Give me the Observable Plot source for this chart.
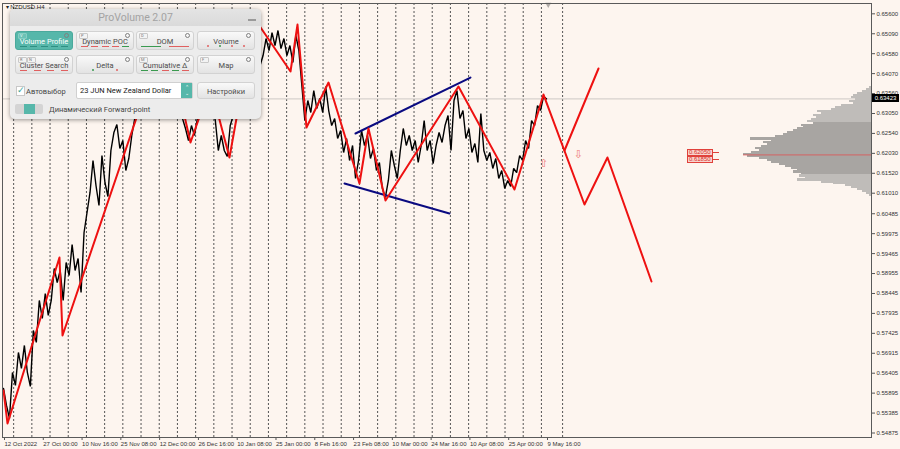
<!DOCTYPE html>
<html><head><meta charset="utf-8">
<script src="https://cdn.jsdelivr.net/npm/d3@7"></script>
<script src="https://cdn.jsdelivr.net/npm/@observablehq/plot@0.6"></script>
<style>
html,body{margin:0;padding:0;background:#fdf5ef;}
#wrap{position:relative;width:900px;height:449px;overflow:hidden;}
#wrap svg{position:absolute;left:0;top:0;}
.panel{position:absolute;left:10px;top:9px;width:251px;height:110px;background:#ececec;border-radius:5px;box-shadow:0 1px 4px rgba(0,0,0,.4);font-family:Roboto,"Open Sans",sans-serif;overflow:hidden}
.ttl{position:absolute;left:0;top:0;width:100%;height:17px;background:linear-gradient(#e4e4e4,#dadada);text-align:center;font-size:10.5px;line-height:17px;color:#a3a3a3}
.min{position:absolute;right:5px;top:10px;width:8px;height:1.5px;background:#9a9a9a}
.btn{position:absolute;width:58px;height:19px;box-sizing:border-box;border:1px solid #d2d2d2;border-radius:3px;background:linear-gradient(#f9f9f9,#e3e3e3)}
.btn b{position:absolute;left:0;right:0;top:5px;text-align:center;font-weight:normal;font-size:7.5px;line-height:9px;color:#4a4a4a;white-space:nowrap}
.btn.on{background:#56b7aa;border-color:#4aa99c}
.btn.on b{color:#fff}
.tag{position:absolute;left:2px;top:1px;height:4px;min-width:5px;padding:0 1px;border:1px solid #c8c8c8;border-radius:1px;font-size:4px;line-height:4px;font-style:normal;color:#777;background:#f3f3f3}
.btn.on .tag{background:#6cc2b6;border-color:#86cfc4;color:#e8fffb}
.gear{position:absolute;right:3px;top:1px;width:3px;height:3px;border:1px solid #808080;border-radius:50%}
.ind{position:absolute;left:4px;right:4px;bottom:2px;height:1px;display:flex;justify-content:space-between;text-decoration:none}
.ind u{display:block;width:7px;height:1px}
.ind.dots{justify-content:space-around;height:2px}
.ind.dots u{width:2px;height:2px;border-radius:1px}
.chk{position:absolute;left:6px;top:77px;width:7px;height:8px;background:#fff;border:1px solid #c8c8c8;color:#3aa597;font-size:9px;line-height:7px;text-align:center}
.txt{position:absolute;font-size:7.5px;color:#444;white-space:nowrap}
.dd{position:absolute;left:66px;top:73px;width:117px;height:17px;box-sizing:border-box;background:#fff;border:1px solid #d0d0d0;border-radius:2px;font-size:7.5px;line-height:15px;color:#222;padding-left:3px}
.spin{position:absolute;right:0;top:0;width:11px;height:15px;background:#56b7aa;color:#fff;font-size:5px;line-height:6px;text-align:center;padding-top:1px;box-sizing:border-box}
.tog{position:absolute;left:5px;top:95px;width:28px;height:10px;background:#d4d4d4;border-radius:2px}
.tog i{position:absolute;left:9px;top:0;width:11px;height:10px;background:#56b7aa}
.ptag{position:absolute;width:26px;height:7px;box-sizing:border-box;border:1px solid #e0413b;background:#f8d3cd;color:#d8302a;font:6px/5px "Liberation Sans",sans-serif;text-align:center}
.ptag:after{content:"";position:absolute;left:25px;top:2px;width:6px;height:1px;background:#e0413b}
.cur{position:absolute;left:872px;width:27px;height:8px;background:#000;color:#fff;font:6px/8px "Liberation Sans",sans-serif;text-align:center}
</style></head><body><div id="wrap"></div>
<script>
// ---- data ----
const labelBars = [0,65,130,195,260,325,390,455,520,585,650,715,780,845,910];
const labelTexts = ["12 Oct 2022","27 Oct 00:00","10 Nov 16:00","25 Nov 08:00","12 Dec 00:00","26 Dec 16:00","10 Jan 08:00","25 Jan 00:00","8 Feb 16:00","23 Feb 08:00","10 Mar 00:00","24 Mar 16:00","10 Apr 08:00","25 Apr 00:00","9 May 16:00"];
const yTicks = [0.65600,0.65090,0.64580,0.64070,0.63560,0.63050,0.62540,0.62030,0.61520,0.61010,0.60485,0.59975,0.59465,0.58955,0.58445,0.57935,0.57425,0.56915,0.56405,0.55895,0.55385,0.54875];
const weekBars = [17,47.5,78,108.5,139,169.5,200,230.5,261,291.5,322,352.5,383,413.5,444,474.5,505,535.5,566,596.5,627,657.5,688,718.5,749,779.5,810,840.5,871,901.5,937];
const barStep = 5; // one sample every 5 H4 bars
const closes = [
0.56015,0.55580,0.55248,0.56424,0.56092,0.56936,0.56527,0.57115,0.56424,0.56066,
0.57499,0.57192,0.58266,0.57806,0.58445,0.57882,0.58266,0.59085,0.58726,0.59033,
0.58266,0.59238,0.58905,0.59698,0.59033,0.59340,0.58471,0.60005,0.60517,0.61029,
0.61847,0.61208,0.60696,0.61975,0.61284,0.60926,0.62103,0.62563,0.62768,0.62154,
0.62359,0.61591,0.61898,0.62487,0.62922,0.63382,0.63177,0.63766,0.63587,0.64149,
0.63945,0.64533,0.64354,0.64917,0.65045,0.64533,0.64712,0.64149,0.63842,0.63382,
0.62922,0.62666,0.62359,0.62742,0.62487,0.62922,0.63126,0.63510,0.63766,0.63587,
0.63254,0.62870,0.62103,0.62487,0.62103,0.61950,0.62742,0.62998,0.63382,0.63638,
0.64021,0.64277,0.64661,0.64968,0.65173,0.64789,0.64277,0.64533,0.64968,0.64661,
0.65121,0.64789,0.65173,0.64712,0.64968,0.64533,0.64789,0.64354,0.65045,0.64661,
0.63766,0.62870,0.63382,0.63075,0.63638,0.63177,0.63433,0.63075,0.63740,0.63126,
0.62742,0.62922,0.62410,0.62615,0.62052,0.62410,0.61847,0.62231,0.61387,0.61847,
0.62615,0.62231,0.62487,0.61898,0.62154,0.61591,0.61796,0.61131,0.60901,0.61336,
0.62103,0.61719,0.61387,0.62103,0.62666,0.62231,0.62487,0.62103,0.62359,0.61796,
0.62231,0.62870,0.62103,0.62359,0.61770,0.62231,0.62563,0.62308,0.62742,0.62998,
0.62103,0.63382,0.63638,0.62922,0.63126,0.62410,0.62666,0.62052,0.62282,0.61796,
0.63049,0.62103,0.61847,0.62052,0.61643,0.61898,0.61387,0.61591,0.61131,0.61336,
0.61182,0.61643,0.61540,0.61975,0.61847,0.62359,0.62154,0.62870,0.62742,0.63254,
0.63126,0.63484,0.63423];
const zigBars   = [0,6.7,93.8,98.9,271.5,313.4,346.9,378.7,420.6,481,492.7,507.8,544.7,596.6,611.7,640.2,762.5,856.4,905,973.7,1012.2,1086];
const zigPrices = [0.55964,0.55120,0.59366,0.57371,0.65121,0.62308,0.63766,0.61924,0.65480,0.64124,0.65326,0.62691,0.63842,0.61259,0.62666,0.60824,0.63740,0.61105,0.63535,0.60722,0.61924,0.58752];
const altBars   = [940.2,997.2];
const altPrices = [0.62103,0.64201];
const upperBars = [589.9,782.6], upperPrices = [0.62538,0.63970];
const lowerBars = [571.5,747.4], lowerPrices = [0.61259,0.60491];
const signalBars = [905,963.6], signalPrices = [0.61770,0.62001], signalGlyphs = ["⇧","⇩"];
const currentPrice = 0.63423;
const tagPrices = [0.62050,0.61850];
const tagBar = 1146;
const shiftBar = 913;
const profPrices = [0.6370,0.6365,0.6360,0.6355,0.6350,0.6345,0.6340,0.6335,0.6330,0.6325,0.6320,0.6315,0.6310,0.6305,0.6300,0.6295,0.6290,0.6285,0.6280,0.6275,0.6270,0.6265,0.6260,0.6255,0.6250,0.6245,0.6240,0.6235,0.6230,0.6225,0.6220,0.6215,0.6210,0.6205,0.6200,0.6195,0.6190,0.6185,0.6180,0.6175,0.6170,0.6165,0.6160,0.6155,0.6150,0.6145,0.6140,0.6135,0.6130,0.6125,0.6120,0.6115,0.6110,0.6105,0.6100,0.6095];
const profVols   = [2,5,9,14,18,20,16,22,18,30,36,40,54,50,58,55,60,64,58,70,68,74,78,84,88,96,121,100,108,104,110,116,112,120,128,124,112,104,100,92,86,80,74,78,70,72,66,74,50,38,26,20,14,9,5,2];
const valueArea = [0.6150,0.6280];
const pocPrice = 0.6199;

// ---- main chart ----
const W = 900, H = 449, mL = 2, mR = 29, mT = 3, mB = 12;
const xDom = [-1.68, 1454.7], yDom = [0.5476, 0.65864];
const bg = "#fdf5ef";
const priceData = closes.map((p,i)=>({bar:i*barStep, price:p}));
const zig = zigBars.map((b,i)=>({bar:b, price:zigPrices[i]}));
const alt = altBars.map((b,i)=>({bar:b, price:altPrices[i]}));
const upper = upperBars.map((b,i)=>({bar:b, price:upperPrices[i]}));
const lower = lowerBars.map((b,i)=>({bar:b, price:lowerPrices[i]}));
const signals = signalBars.map((b,i)=>({bar:b, price:signalPrices[i], g:signalGlyphs[i]}));
const labelMap = new Map(labelBars.map((b,i)=>[b,labelTexts[i]]));

const chart = Plot.plot({
  width: W, height: H, marginLeft: mL, marginRight: mR, marginTop: mT, marginBottom: mB,
  style: {background: bg, fontFamily: "'Liberation Sans', sans-serif", overflow: "visible"},
  x: {domain: xDom, label: null},
  y: {domain: yDom, label: null},
  marks: [
    Plot.ruleX(weekBars, {stroke: "#555", strokeWidth: 1, strokeDasharray: "2,2"}),
    Plot.ruleY([currentPrice], {stroke: "#cdc8c4", strokeWidth: 1}),
    Plot.line(priceData, {x: "bar", y: "price", stroke: "#000", strokeWidth: 1.4, strokeLinejoin: "miter"}),
    Plot.line(upper, {x: "bar", y: "price", stroke: "#0a0a80", strokeWidth: 2}),
    Plot.line(lower, {x: "bar", y: "price", stroke: "#0a0a80", strokeWidth: 2}),
    Plot.line(zig, {x: "bar", y: "price", stroke: "#ee1111", strokeWidth: 2}),
    Plot.line(alt, {x: "bar", y: "price", stroke: "#ee1111", strokeWidth: 2}),
    Plot.text(signals, {x: "bar", y: "price", text: "g", fill: "#ee7b78", fontSize: 11, fontFamily: "DejaVu Sans"}),
    Plot.dot([shiftBar], {x: d=>d, y: () => yDom[1], symbol: "triangle", r: 2.2, fill: "#b0aaa6", stroke: null, rotate: 180, dy: 1}),
    Plot.text(["▾ NZDUSD,H4"], {frameAnchor: "top-left", dx: 3, dy: 1, fontSize: 6, fill: "#222"}),
    Plot.axisX({ticks: labelBars, tickFormat: d => labelMap.get(d), label: null, textAnchor: "start", dx: 1, tickSize: 3, tickPadding: 1, fontSize: 6, fill: "#333", stroke: "#555"}),
    Plot.axisY({anchor: "right", ticks: yTicks, tickFormat: d => d.toFixed(5), label: null, tickSize: 3, tickPadding: 2, fontSize: 6, fill: "#333", stroke: "#555"}),
    Plot.frame({stroke: "#5a5a5a"})
  ]
});
const wrap = document.getElementById("wrap");
wrap.appendChild(chart);

// ---- volume profile overlay ----
const prof = profPrices.map((p,i)=>({p, v: profVols[i], va: p >= valueArea[0] && p <= valueArea[1]}));
const rightPx = W - mR;
const profile = Plot.plot({
  width: W, height: H, marginLeft: mL, marginRight: mR, marginTop: mT, marginBottom: mB,
  style: {background: "transparent"},
  x: {domain: [0, 130], range: [rightPx, rightPx - 130], axis: null},
  y: {domain: yDom, axis: null},
  marks: [
    Plot.rect(prof, {x1: 0, x2: "v", y1: d => d.p - 0.00029, y2: d => d.p + 0.00029, fill: d => d.va ? "#a8a5a2" : "#bfbcb9", shapeRendering: "crispEdges"}),
    Plot.ruleY([pocPrice], {x1: 0, x2: d3.max(profVols), stroke: "#e05050", strokeWidth: 0.8})
  ]
});
profile.style.pointerEvents = "none";
wrap.appendChild(profile);

// ---- price tags positioned with the chart's scales ----
const xs = chart.scale("x"), ys = chart.scale("y");
tagPrices.forEach(p => {
  const d = document.createElement("div");
  d.className = "ptag";
  d.textContent = p.toFixed(5);
  d.style.left = xs.apply(tagBar) + "px";
  d.style.top = (ys.apply(p) - 3.5) + "px";
  wrap.appendChild(d);
});
const cur = document.createElement("div");
cur.className = "cur";
cur.textContent = currentPrice.toFixed(5);
cur.style.top = (ys.apply(currentPrice) - 4) + "px";
wrap.appendChild(cur);

// ---- ProVolume panel ----
const panel = document.createElement("div");
panel.className = "panel";
const red = "#e06060", green = "#3a9a50", teal = "#2f8f83";
function ind(colors, dots){ return `<s class="ind${dots?" dots":""}">` + colors.map(c=>`<u style="background:${c}"></u>`).join("") + `</s>`; }
panel.innerHTML = `
<div class="ttl">ProVolume 2.07<span class="min"></span></div>
<div class="btn on" style="left:5px;top:22px"><i class="tag">V</i><i class="gear"></i><b>Volume Profile</b>${ind([teal,teal,teal,teal,teal])}</div>
<div class="btn" style="left:66px;top:22px"><i class="tag">P</i><i class="gear"></i><b>Dynamic POC</b>${ind([red,red,red,red,green])}</div>
<div class="btn" style="left:126px;top:22px"><i class="tag">D</i><i class="gear"></i><b>DOM</b><s class="ind"><u style="background:${green};width:20px"></u><u style="background:${red};width:20px"></u></s></div>
<div class="btn" style="left:187px;top:22px"><i class="gear"></i><b>Volume</b>${ind([red,green,red,red],true)}</div>
<div class="btn" style="left:5px;top:46px"><i class="tag">R</i><i class="tag" style="left:11px">N</i><i class="gear"></i><b>Cluster Search</b>${ind([red,red,red,red])}</div>
<div class="btn" style="left:66px;top:46px"><i class="gear"></i><b>Delta</b>${ind([green,red],true)}</div>
<div class="btn" style="left:126px;top:46px"><i class="tag">M</i><i class="gear"></i><b>Cumulative Δ</b>${ind([green,green,red,green,red])}</div>
<div class="btn" style="left:187px;top:46px"><i class="tag">F</i><i class="gear"></i><b>Map</b></div>
<div class="chk">✓</div>
<div class="txt" style="left:16px;top:78px">Автовыбор</div>
<div class="dd">23 JUN New Zealand Dollar<div class="spin">⌃<br>⌄</div></div>
<div class="btn" style="left:187px;top:73px;height:17px"><b style="top:4px">Настройки</b></div>
<div class="tog"><i></i></div>
<div class="txt" style="left:39px;top:96px">Динамический Forward-point</div>`;
wrap.appendChild(panel);
</script></body></html>
